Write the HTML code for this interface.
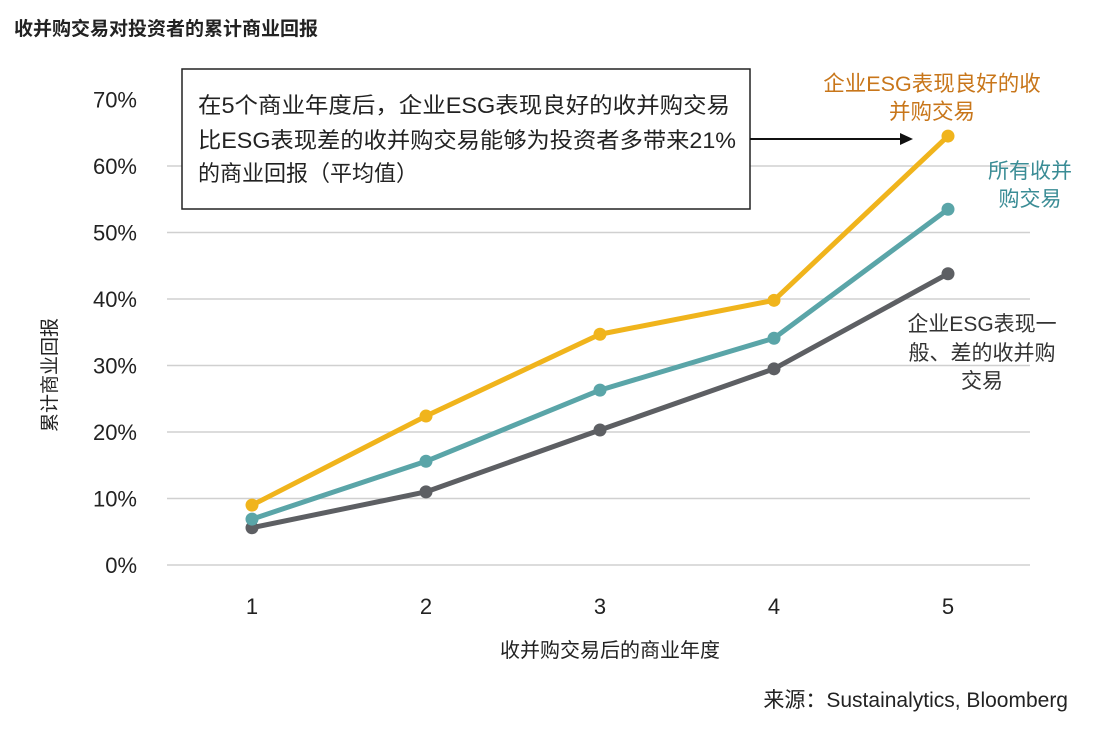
<!DOCTYPE html>
<html><head><meta charset="utf-8"><style>
body{margin:0;background:#fff;width:1100px;height:732px;overflow:hidden;font-family:"Liberation Sans","Noto Sans CJK SC",sans-serif}
svg{display:block}
text{font-family:"Liberation Sans","Noto Sans CJK SC",sans-serif}
</style></head><body>
<svg width="1100" height="732">
<text x="14" y="35" font-size="19" font-weight="bold" fill="#222">收并购交易对投资者的累计商业回报</text>
<g id="grid"></g><g id="ylab"></g><g id="xlab"></g><g id="series"></g>
<text transform="translate(56,375) rotate(-90)" text-anchor="middle" font-size="19" fill="#222">累计商业回报</text>
<text x="610" y="657" text-anchor="middle" font-size="20" fill="#222">收并购交易后的商业年度</text>
<text x="1068" y="707" text-anchor="end" font-size="21" fill="#222">来源：Sustainalytics, Bloomberg</text>
<g>
<rect x="182" y="69" width="568" height="140" fill="#fff" stroke="#222" stroke-width="1.5"/>
<text font-size="22" fill="#222"><tspan x="198" y="113" textLength="532" lengthAdjust="spacingAndGlyphs">在5个商业年度后，企业ESG表现良好的收并购交易</tspan><tspan x="198" y="148" textLength="538" lengthAdjust="spacingAndGlyphs">比ESG表现差的收并购交易能够为投资者多带来21%</tspan><tspan x="198" y="181">的商业回报（平均值）</tspan></text>
<line x1="750" y1="139" x2="905" y2="139" stroke="#111" stroke-width="2"/>
<polygon points="913,139 900,133 900,145" fill="#111"/>
</g>
<text font-size="21.5" fill="#c8761a" text-anchor="middle"><tspan x="932" y="91">企业ESG表现良好的收</tspan><tspan x="932" y="119">并购交易</tspan></text>
<text font-size="21" fill="#3a8c95" text-anchor="middle"><tspan x="1030" y="178">所有收并</tspan><tspan x="1030" y="206">购交易</tspan></text>
<text font-size="21" fill="#333" text-anchor="middle"><tspan x="982" y="331">企业ESG表现一</tspan><tspan x="982" y="360">般、差的收并购</tspan><tspan x="982" y="388">交易</tspan></text>
</svg>
<script>
const categories=[1,2,3,4,5];
const yTicks=[0,10,20,30,40,50,60,70];
const goodESG=[9.0,22.4,34.7,39.8,64.5];
const allDeals=[6.9,15.6,26.3,34.1,53.5];
const poorESG=[5.6,11.0,20.3,29.5,43.8];
const NS="http://www.w3.org/2000/svg";
const x=c=>252+(c-1)*174;
const y=v=>565-v*6.65;
function mk(t,a,p){const e=document.createElementNS(NS,t);for(const k in a)e.setAttribute(k,a[k]);p.appendChild(e);return e;}
const grid=document.getElementById('grid'),yl=document.getElementById('ylab'),xl=document.getElementById('xlab'),sg=document.getElementById('series');
yTicks.forEach(t=>{
 if(t<70){const l=mk('line',{x1:167,x2:1030,y1:y(t),y2:y(t),stroke:'#d0d0d0','stroke-width':1.5},grid);
 
 }
 const tx=mk('text',{x:137,y:y(t)+8,'text-anchor':'end','font-size':22,fill:'#222'},yl);tx.textContent=t+'%';
 
 
});
categories.forEach(c=>{const tx=mk('text',{x:x(c),y:614,'text-anchor':'middle','font-size':22,fill:'#222'},xl);tx.textContent=c;
 
 });
[[poorESG,'#5d5f63','series-poor-esg'],[allDeals,'#5aa5a8','series-all-deals'],[goodESG,'#f0b41c','series-good-esg']].forEach(([d,col,name])=>{
 const g=mk('g',{},sg);
 
 
 mk('polyline',{points:d.map((v,i)=>x(categories[i])+','+y(v)).join(' '),fill:'none',stroke:col,'stroke-width':5,'stroke-linejoin':'round'},g);
 d.forEach((v,i)=>{const p=mk('circle',{cx:x(categories[i]),cy:y(v),r:6.5,fill:col},g);
 
 });
});
</script>
</body></html>
